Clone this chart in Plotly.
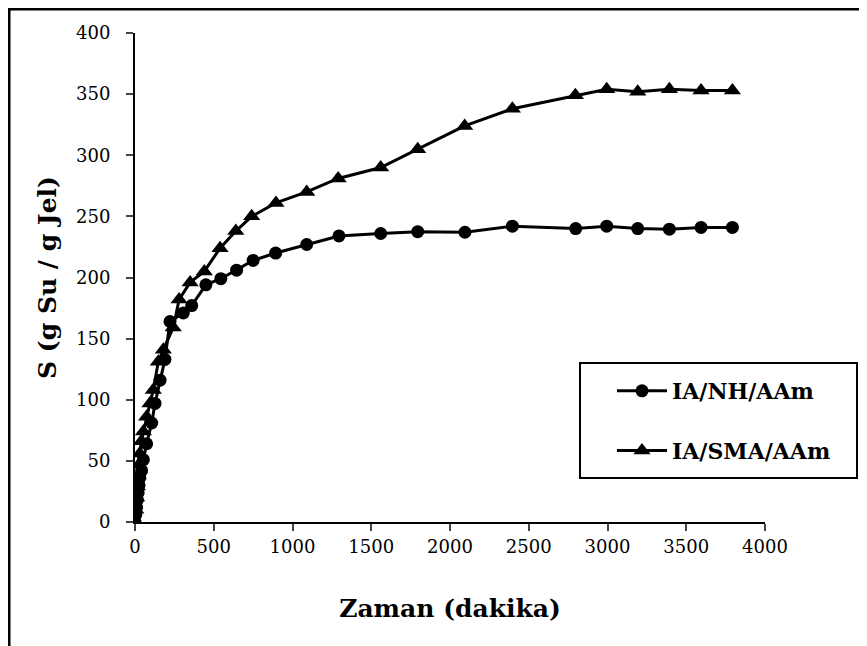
import plotly.graph_objects as go

# IA/NH/AAm (circles)
nh_time = [0, 5, 10, 15, 20, 25, 30, 42, 53, 74, 106, 127, 159, 190, 222, 307, 360, 450, 545, 645, 750, 893, 1090, 1295, 1560, 1795, 2095, 2396, 2798, 2995, 3192, 3393, 3594, 3793]
nh_val = [0, 6, 12, 18, 24, 30, 36, 42, 51, 64, 81, 97, 116, 133, 164, 171, 177, 194, 199, 206, 214, 220, 227, 234, 236, 237.5, 237, 242, 240, 242, 240, 239.5, 241, 241]

# IA/SMA/AAm (triangles)
sma_time = [0, 5, 10, 15, 20, 25, 30, 40, 53, 74, 95, 116, 148, 180, 243, 280, 350, 440, 540, 640, 741, 895, 1090, 1290, 1560, 1795, 2093, 2396, 2796, 2995, 3192, 3393, 3594, 3793]
sma_val = [0, 10, 20, 29, 38, 47, 56, 66, 74, 86, 97, 108, 131, 141, 159, 182, 196, 205, 224, 238, 250, 261, 270, 281, 290, 305, 324, 338, 349, 354, 352, 354, 353, 353]

x_ticks = [0, 500, 1000, 1500, 2000, 2500, 3000, 3500, 4000]
y_ticks = [0, 50, 100, 150, 200, 250, 300, 350, 400]

W, H = 867, 646
OFF = 8  # page body margin
L, T = 135 - OFF, 33 - OFF
R = W - (765 - OFF)
B = H - (522 - OFF)
pw, ph = W - L - R, H - T - B

def px(xp):
    return (xp - OFF - L) / pw

def py(yp):
    return (H - B - (yp - OFF)) / ph

fig = go.Figure()
fig.add_trace(go.Scatter(x=nh_time, y=nh_val, name="IA/NH/AAm", mode="lines+markers",
                         line=dict(color="black", width=3),
                         marker=dict(symbol="circle", size=13, color="black"),
                         legendgroup="a"))
fig.add_trace(go.Scatter(x=sma_time, y=sma_val, name="IA/SMA/AAm", mode="lines+markers",
                         line=dict(color="black", width=3),
                         marker=dict(symbol="triangle-up", size=15, color="black"),
                         legendgroup="b"))

font = "DejaVu Serif"
fig.update_layout(
    width=W, height=H,
    margin=dict(l=L, r=R, t=T, b=B, autoexpand=False),
    paper_bgcolor="white", plot_bgcolor="white",
    font=dict(family=font, color="black", size=18),
    showlegend=True,
    legend=dict(x=px(612), y=py(370), xanchor="left", yanchor="top",
                bgcolor="rgba(0,0,0,0)", borderwidth=0,
                font=dict(family=font, size=22, color="black", weight="bold"),
                traceorder="grouped", tracegroupgap=28, itemwidth=50),
    xaxis=dict(range=[0, 4000], tickvals=x_ticks, ticks="outside", ticklen=7, tickwidth=2,
               showline=True, linecolor="black", linewidth=2, showgrid=False, zeroline=False,
               tickfont=dict(size=18, family=font),
               title=dict(text="<b>Zaman (dakika)</b>", font=dict(size=25, family=font), standoff=44)),
    yaxis=dict(range=[0, 400], tickvals=y_ticks, ticks="outside", ticklen=7, tickwidth=2,
               showline=True, linecolor="black", linewidth=2, showgrid=False, zeroline=False,
               tickfont=dict(size=18, family=font), ticklabelstandoff=12,
               title=dict(text="<b>S (g Su / g Jel)</b>", font=dict(size=25, family=font), standoff=12)),
    shapes=[
        dict(type="rect", xref="paper", yref="paper", x0=px(580), x1=px(857), y0=py(478), y1=py(363),
             line=dict(color="black", width=2), fillcolor="rgba(0,0,0,0)"),
        dict(type="rect", xref="paper", yref="paper", x0=px(9), x1=px(890), y0=py(670), y1=py(9),
             line=dict(color="black", width=3), fillcolor="rgba(0,0,0,0)"),
    ],
)

fig.write_html("out.html")
